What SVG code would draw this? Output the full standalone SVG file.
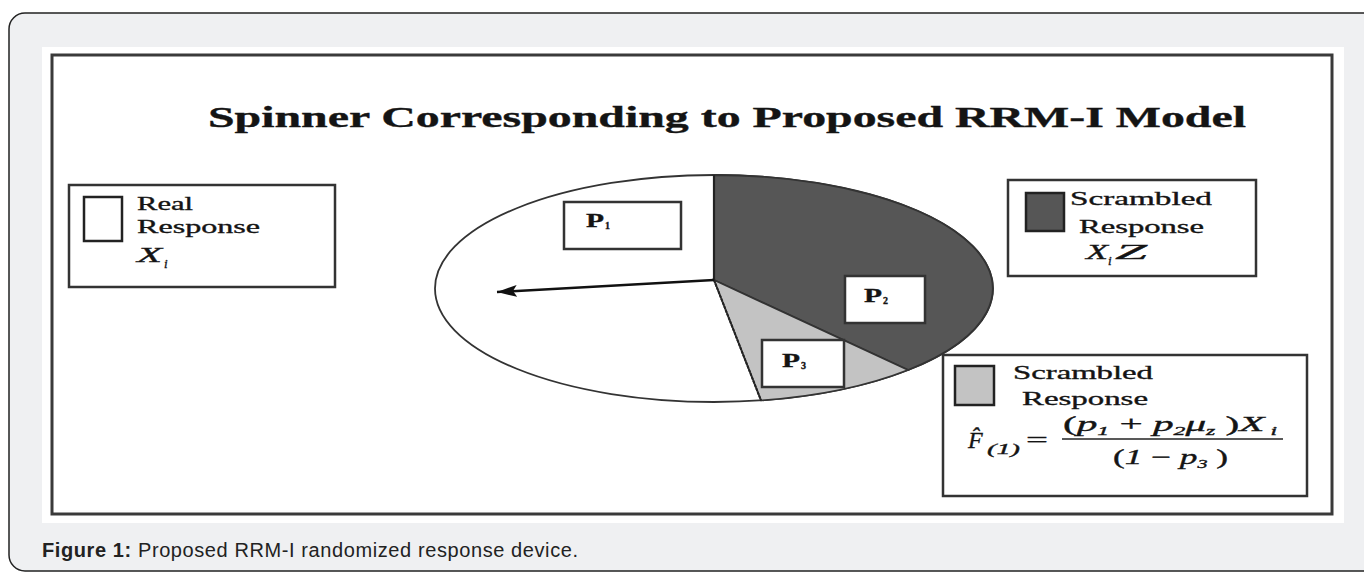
<svg xmlns="http://www.w3.org/2000/svg" width="1364" height="575" viewBox="0 0 1364 575">
<style>
.serif{font-family:"Liberation Serif","Times New Roman",serif;fill:#141414;stroke:#141414;stroke-width:0.35}
.it{font-style:italic}
.box{fill:#fff;stroke:#333;stroke-width:2.5}
</style>
<defs>
<marker id="ah" markerWidth="22" markerHeight="14" refX="20" refY="7" orient="auto" markerUnits="userSpaceOnUse">
<path d="M0,1 L20,7 L0,13 L4,7 Z" fill="#111"/>
</marker>
</defs>
<rect x="9" y="13" width="1372" height="558" rx="16" fill="#eff0f2" stroke="#222" stroke-width="1.5"/>
<rect x="42" y="47" width="1302" height="476" fill="#fff"/>
<rect x="52" y="55" width="1280" height="459" fill="none" stroke="#3a3a3a" stroke-width="3"/>
<g id="title">
<text class="serif" x="208" y="127" font-size="30" font-weight="bold" textLength="1038" lengthAdjust="spacingAndGlyphs">Spinner Corresponding to Proposed RRM-I Model</text>
</g>
<g id="spinner">
<ellipse cx="714" cy="288.5" rx="279" ry="113.5" fill="#fff" stroke="#333" stroke-width="1.8"/>
<path d="M714,280 L714,175 A279,113.5 0 0 1 908,370 Z" fill="#565656" stroke="#333" stroke-width="1.8"/>
<path d="M714,280 L908,370 A279,113.5 0 0 1 761,400.4 Z" fill="#c3c3c3" stroke="#333" stroke-width="1.8"/>
<line x1="714" y1="175" x2="714" y2="280" stroke="#222" stroke-width="2.2"/>
<line x1="714" y1="280" x2="761" y2="400.4" stroke="#222" stroke-width="2" stroke-dasharray="3 1"/>
</g>
<g id="p1">
<rect class="box" x="564" y="202" width="117" height="47" stroke-width="2"/>
<text class="serif" x="586" y="227" font-size="19" font-weight="bold" textLength="18" lengthAdjust="spacingAndGlyphs">P</text>
<text class="serif" x="605" y="229" font-size="10" font-weight="bold">1</text>
</g>
<g id="p2">
<rect class="box" x="845" y="276" width="80" height="47" stroke-width="2"/>
<text class="serif" x="864" y="302" font-size="19" font-weight="bold" textLength="18" lengthAdjust="spacingAndGlyphs">P</text>
<text class="serif" x="883" y="304" font-size="10" font-weight="bold">2</text>
</g>
<g id="p3">
<rect class="box" x="762" y="340" width="82" height="47" stroke-width="2"/>
<text class="serif" x="782" y="367" font-size="19" font-weight="bold" textLength="18" lengthAdjust="spacingAndGlyphs">P</text>
<text class="serif" x="801" y="369" font-size="10" font-weight="bold">3</text>
</g>
<g id="connectors">
<line x1="714" y1="280" x2="497" y2="292" stroke="#111" stroke-width="2.5" marker-end="url(#ah)"/>
</g>
<g id="legend-real">
<rect class="box" x="69" y="185" width="266" height="102"/>
<rect x="84" y="197" width="38" height="44" fill="#fff" stroke="#222" stroke-width="2.5"/>
<text class="serif" x="137" y="210" font-size="19" textLength="56" lengthAdjust="spacingAndGlyphs">Real</text>
<text class="serif" x="137" y="233" font-size="19" textLength="123" lengthAdjust="spacingAndGlyphs">Response</text>
<text class="serif it" x="137" y="262" font-size="22" textLength="25" lengthAdjust="spacingAndGlyphs">X</text>
<text class="serif it" x="164" y="268" font-size="13">i</text>
</g>
<g id="legend-scrambled-1">
<rect class="box" x="1008" y="180" width="248" height="96"/>
<rect x="1026" y="193" width="38" height="38" fill="#565656" stroke="#222" stroke-width="2.5"/>
<text class="serif" x="1070" y="205" font-size="19" textLength="142" lengthAdjust="spacingAndGlyphs">Scrambled</text>
<text class="serif" x="1079" y="233" font-size="19" textLength="125" lengthAdjust="spacingAndGlyphs">Response</text>
<text class="serif it" x="1086" y="259" font-size="22" textLength="22" lengthAdjust="spacingAndGlyphs">X</text>
<text class="serif it" x="1108" y="265" font-size="13">i</text>
<text class="serif it" x="1115" y="259" font-size="22" textLength="32" lengthAdjust="spacingAndGlyphs">Z</text>
</g>
<g id="legend-scrambled-2">
<rect class="box" x="943" y="355" width="364" height="141"/>
<rect x="955" y="366" width="39" height="39" fill="#c3c3c3" stroke="#222" stroke-width="2.5"/>
<text class="serif" x="1013" y="379" font-size="19" textLength="140" lengthAdjust="spacingAndGlyphs">Scrambled</text>
<text class="serif" x="1022" y="405" font-size="19" textLength="126" lengthAdjust="spacingAndGlyphs">Response</text>
<text class="serif it" x="968" y="448" font-size="24">F̂</text>
<text class="serif it" x="987" y="454" font-size="15" textLength="33" lengthAdjust="spacingAndGlyphs">(1)</text>
<text class="serif" x="1026" y="447" font-size="22" textLength="22" lengthAdjust="spacingAndGlyphs">=</text>
<text class="serif it" x="1063" y="431" font-size="21" textLength="214" lengthAdjust="spacingAndGlyphs"><tspan font-style="normal">(</tspan>p<tspan font-size="12" dy="4">1</tspan><tspan dy="-4" font-style="normal"> + </tspan>p<tspan font-size="12" dy="4">2</tspan><tspan dy="-4">μ</tspan><tspan font-size="12" dy="4">z</tspan><tspan dy="-4" font-style="normal"> )</tspan>X<tspan font-size="12" dy="4"> i</tspan></text>
<line x1="1062" y1="439" x2="1283" y2="439" stroke="#222" stroke-width="1.5"/>
<text class="serif it" x="1113" y="464" font-size="21" textLength="115" lengthAdjust="spacingAndGlyphs"><tspan font-style="normal">(</tspan>1<tspan font-style="normal"> − </tspan>p<tspan font-size="12" dy="4">3</tspan><tspan dy="-4" font-style="normal"> )</tspan></text>
</g>
<g id="caption">
<text x="42" y="557" font-family="Liberation Sans, Arial, sans-serif" font-size="20" fill="#222" textLength="536" lengthAdjust="spacing"><tspan font-weight="bold">Figure 1:</tspan> Proposed RRM-I randomized response device.</text>
</g>
</svg>
